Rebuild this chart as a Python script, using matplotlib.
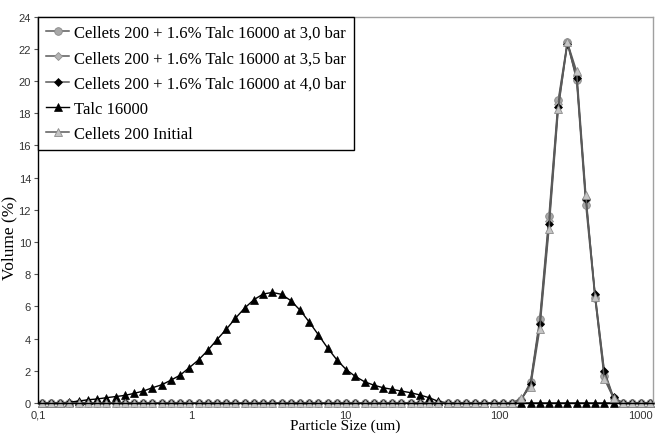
"""Particle size distribution: Cellets 200 + talc at different pressures vs talc alone."""

import matplotlib

matplotlib.use("Agg")
import matplotlib.pyplot as plt
from matplotlib.ticker import FixedLocator, NullLocator

# particle size classes (um), log-spaced
sizes = [
    0.106, 0.122, 0.140, 0.160, 0.184, 0.211, 0.243, 0.279, 0.320, 0.367,
    0.422, 0.484, 0.556, 0.638, 0.733, 0.841, 0.966, 1.109, 1.273, 1.462,
    1.679, 1.928, 2.213, 2.541, 2.917, 3.350, 3.846, 4.416, 5.070, 5.821,
    6.683, 7.674, 8.810, 10.12, 11.61, 13.34, 15.31, 17.58, 20.18, 23.17,
    26.61, 30.55, 35.08, 40.27, 46.24, 53.09, 60.95, 69.98, 80.35, 92.26,
    105.9, 121.6, 139.6, 160.3, 184.1, 211.3, 242.7, 278.6, 319.9, 367.3,
    421.7, 484.2, 556.0, 638.4, 733.0, 841.6, 966.3,
]

talc = [
    0.0, 0.0, 0.0, 0.05, 0.12, 0.2, 0.25, 0.33, 0.4, 0.47,
    0.6, 0.74, 0.95, 1.13, 1.42, 1.73, 2.2, 2.68, 3.27, 3.94,
    4.58, 5.27, 5.9, 6.42, 6.77, 6.87, 6.75, 6.36, 5.77, 5.03,
    4.23, 3.41, 2.68, 2.08, 1.65, 1.32, 1.11, 0.95, 0.85, 0.74,
    0.64, 0.5, 0.33, 0.1, 0.0, 0.0, 0.0, 0.0, 0.0, 0.0,
    0.0, 0.0, 0.0, 0.0, 0.0, 0.0, 0.0, 0.0, 0.0, 0.0,
    0.0, 0.0, 0.0, 0.0, 0.0, 0.0, 0.0,
]

cel_30 = [0.0] * 52 + [0.2, 1.3, 5.2, 11.6, 18.8, 22.45, 20.05, 12.3, 6.5, 1.7, 0.3] + [0.0] * 4
cel_35 = [0.0] * 52 + [0.2, 1.2, 5.0, 11.3, 18.6, 22.4, 20.3, 12.6, 6.7, 1.9, 0.3] + [0.0] * 4
cel_40 = [0.0] * 52 + [0.2, 1.2, 4.9, 11.1, 18.4, 22.3, 20.2, 12.7, 6.75, 2.0, 0.35] + [0.0] * 4
cel_init = [0.0] * 52 + [0.3, 1.0, 4.6, 10.8, 18.25, 22.4, 20.6, 12.9, 6.6, 1.5, 0.3] + [0.0] * 4

labels = [
    "Cellets 200 + 1.6% Talc 16000 at 3,0 bar",
    "Cellets 200 + 1.6% Talc 16000 at 3,5 bar",
    "Cellets 200 + 1.6% Talc 16000 at 4,0 bar",
    "Talc 16000",
    "Cellets 200 Initial",
]

fig = plt.figure(figsize=(6.63, 4.35), dpi=100)
ax = fig.add_axes([38 / 663, 1 - 404 / 435, (652.7 - 38) / 663, (404 - 17.7) / 435])

line_gray = "#5a5a5a"
ax.plot(sizes, cel_30, color=line_gray, lw=1.1, marker="o", ms=5.5,
        mfc="#a8a8a8", mec="#888888", mew=0.6, label=labels[0], clip_on=False)
ax.plot(sizes, cel_35, color=line_gray, lw=1.1, marker="D", ms=3.8,
        mfc="#b4b4b4", mec="#909090", mew=0.6, label=labels[1], clip_on=False)
ax.plot(sizes, cel_40, color=line_gray, lw=1.1, marker="D", ms=4,
        mfc="black", mec="black", mew=0.5, label=labels[2], clip_on=False)
ax.plot(sizes, talc, color="black", lw=1.0, marker="^", ms=5.5,
        mfc="black", mec="black", mew=0.5, label=labels[3], clip_on=False)
ax.plot(sizes, cel_init, color=line_gray, lw=1.1, marker="^", ms=6,
        mfc="#c4c4c4", mec="#8c8c8c", mew=0.6, label=labels[4], clip_on=False)

ax.set_xscale("log")
ax.set_xlim(0.1, 1000)
ax.set_ylim(0, 24)
ax.xaxis.set_major_locator(FixedLocator([0.1, 1, 10, 100, 1000]))
ax.xaxis.set_minor_locator(NullLocator())
ax.set_xticklabels(["0,1", "1", "10", "100", "1000"])
ax.set_yticks(range(0, 25, 2))

ax.tick_params(axis="x", length=0, pad=5, labelsize=8, labelcolor="#333333",
               labelfontfamily="Liberation Sans")
ax.tick_params(axis="y", length=3, width=0.8, color="#555555", pad=2, labelsize=8,
               labelcolor="#333333", labelfontfamily="Liberation Sans")
# keep the last x label inside the canvas
ax.get_xticklabels()[-1].set_horizontalalignment("right")
ax.get_xticklabels()[-1].set_x(1000)

for s in ("top", "right"):
    ax.spines[s].set_color("#a0a0a0")
    ax.spines[s].set_linewidth(1.0)
for s in ("left", "bottom"):
    ax.spines[s].set_color("black")
    ax.spines[s].set_linewidth(1.0)

ax.set_xlabel("Particle Size (um)", family="Liberation Serif", fontsize=11, labelpad=-1)
ax.set_ylabel("Volume (%)", family="Liberation Serif", fontsize=12.5)
ax.yaxis.set_label_coords(-0.034, 0.43)

leg = ax.legend(loc="upper left", bbox_to_anchor=(0, 1), borderaxespad=0,
                prop={"family": "Liberation Serif", "size": 12}, handlelength=1.35,
                handletextpad=0.3, labelspacing=0.55, borderpad=0.5,
                fancybox=False, framealpha=1, edgecolor="black")
leg.get_frame().set_linewidth(1.0)

fig.savefig("out.png", dpi=100)
